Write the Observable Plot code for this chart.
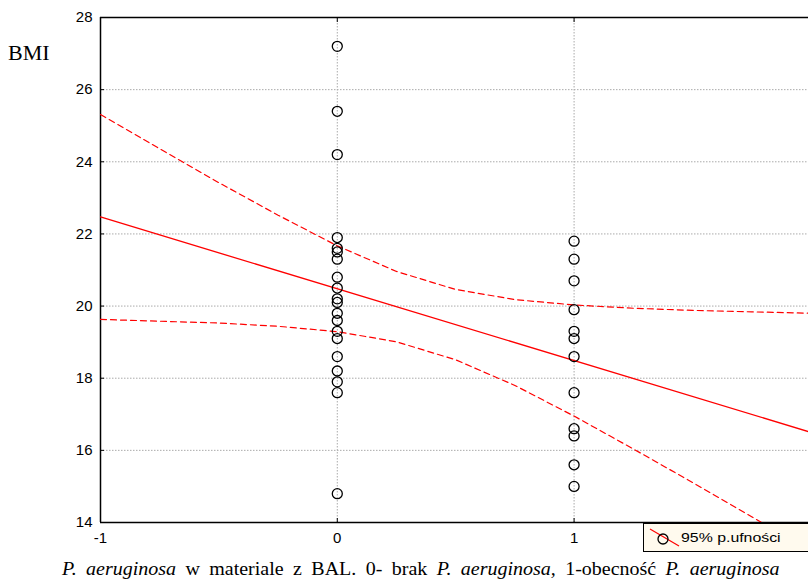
<!DOCTYPE html>
<html><head><meta charset="utf-8">
<script src="https://cdn.jsdelivr.net/npm/d3@7"></script>
<script src="https://cdn.jsdelivr.net/npm/@observablehq/plot@0.6"></script>
<style>
body{margin:0;background:#fff;overflow:hidden;}
#wrap{position:relative;width:808px;height:582px;}
#ylab{position:absolute;left:8px;top:40px;font-family:"Liberation Serif","Times New Roman",serif;font-size:22px;}
#cap{position:absolute;left:62px;top:559px;transform-origin:0 0;transform:scaleX(1.11);word-spacing:4px;font-family:"Liberation Serif","Times New Roman",serif;font-size:18px;white-space:nowrap;}
#leg{position:absolute;left:643px;top:523px;width:180px;height:29px;background:#fffaee;border:1px solid #000;box-sizing:border-box;font-family:"Liberation Sans",Arial,sans-serif;font-size:13px;}
#leg svg{position:absolute;left:0;top:0;}
#leg span{position:absolute;left:37px;top:6px;transform-origin:0 0;transform:scaleX(1.22);white-space:nowrap;}
</style></head>
<body><div id="wrap">
<div id="chart"></div>
<div id="ylab">BMI</div>
<div id="leg"><svg width="40" height="28"><line x1="6" y1="5" x2="35" y2="22" stroke="#f00" stroke-width="1.2"/><circle cx="19" cy="15" r="5" fill="none" stroke="#000" stroke-width="1.3"/></svg><span>95% p.ufności</span></div>
<div id="cap"><i>P. aeruginosa</i> w materiale z BAL. 0- brak <i>P. aeruginosa,</i> 1-obecność <i>P. aeruginosa</i></div>
</div>
<script>
// Observed BMI values
const group0 = [27.2,25.4,24.2,21.9,21.6,21.5,21.3,20.8,20.5,20.2,20.1,19.8,19.6,19.3,19.1,18.6,18.2,17.9,17.6,14.8];
const group1 = [21.8,21.3,20.7,19.9,19.3,19.1,18.6,17.6,16.6,16.4,15.6,15.0];
// Fitted line (endpoints)
const fitX = [-1, 2];
const fitY = [22.47, 16.50];
// 95% confidence band
const ciX     = [-1, -0.75, -0.5, -0.25, 0, 0.25, 0.5, 0.75, 1, 1.25, 1.5, 1.75, 2];
const ciUpper = [25.31, 24.36, 23.42, 22.52, 21.67, 20.96, 20.46, 20.18, 20.03, 19.94, 19.88, 19.84, 19.80];
const ciLower = [19.63, 19.58, 19.53, 19.44, 19.29, 19.01, 18.51, 17.80, 16.95, 16.04, 15.11, 14.16, 13.20];
const xTicks = [-1, 0, 1];
const yTicks = [14, 16, 18, 20, 22, 24, 26, 28];

const pts = [...group0.map(v => ({x: 0, y: v})), ...group1.map(v => ({x: 1, y: v}))];
const fit = fitX.map((x, i) => ({x, y: fitY[i]}));
const up = ciX.map((x, i) => ({x, y: ciUpper[i]}));
const lo = ciX.map((x, i) => ({x, y: ciLower[i]}));

const chart = Plot.plot({
  width: 808, height: 555,
  marginLeft: 100, marginRight: 0, marginTop: 17, marginBottom: 33,
  style: {fontFamily: "'Liberation Sans', Arial, sans-serif", fontSize: "15px", color: "#000", background: "transparent"},
  x: {domain: [-1, 1.99], label: null},
  y: {domain: [14, 28], label: null},
  marks: [
    Plot.gridX([0, 1], {stroke: "#aaa", strokeOpacity: 1, strokeDasharray: "1.5,1.5", strokeWidth: 1}),
    Plot.gridY(yTicks.filter(d => d > 14 && d < 28), {stroke: "#aaa", strokeOpacity: 1, strokeDasharray: "1.5,1.5", strokeWidth: 1}),
    Plot.axisY(yTicks, {anchor: "left", tickSize: -4, tickPadding: 12, tickFormat: d => String(d), fontSize: 15}),
    Plot.axisX(xTicks, {anchor: "bottom", tickSize: -4, tickPadding: 14, tickFormat: d => String(d), fontSize: 15}),
    Plot.axisX(xTicks, {anchor: "top", tickSize: -4, tickFormat: () => ""}),
    Plot.ruleX([-1], {stroke: "#000", strokeWidth: 1.5}),
    Plot.ruleY([14, 28], {stroke: "#000", strokeWidth: 1.5}),
    Plot.line(up, {x: "x", y: "y", stroke: "#f00", strokeWidth: 1.2, strokeDasharray: "6,4", clip: true}),
    Plot.line(lo, {x: "x", y: "y", stroke: "#f00", strokeWidth: 1.2, strokeDasharray: "6,4", clip: true}),
    Plot.line(fit, {x: "x", y: "y", stroke: "#f00", strokeWidth: 1.3, clip: true}),
    Plot.dot(pts, {x: "x", y: "y", r: 5, stroke: "#000", strokeWidth: 1.3, fill: "none"})
  ]
});
document.getElementById("chart").appendChild(chart);
</script>
</body></html>
